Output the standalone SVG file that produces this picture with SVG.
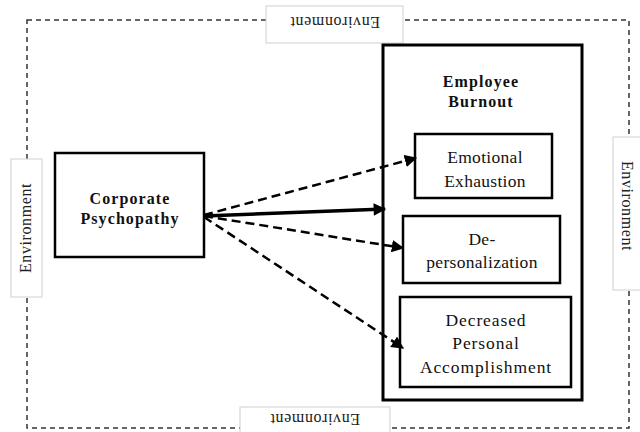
<svg xmlns="http://www.w3.org/2000/svg" width="640" height="432" viewBox="0 0 640 432">
  <style>
    .env-line { fill: none; stroke: #333; stroke-width: 1.5; stroke-dasharray: 5 4; }
    .env-box { fill: #fff; stroke: #d0d0d0; stroke-width: 1; }
    text { font-family: "Liberation Serif", "Times New Roman", "DejaVu Serif", serif; }
    .env-text { font-size: 16px; fill: #222; text-anchor: middle; letter-spacing: 0.6px; }
    .box { fill: #fff; stroke: #000; stroke-width: 2.5; }
    .big { fill: #fff; stroke: #000; stroke-width: 3; }
    .title { font-size: 16px; font-weight: bold; fill: #111; text-anchor: middle; letter-spacing: 1.1px; }
    .label { font-size: 17.5px; fill: #111; text-anchor: middle; letter-spacing: 0.3px; }
    .wide { letter-spacing: 0.9px; }
    .dash { fill: none; stroke: #000; stroke-width: 2.5; stroke-dasharray: 9 5; }
    .solid { fill: none; stroke: #000; stroke-width: 3.5; }
  </style>
  <defs>
    <marker id="head" viewBox="0 0 10 10" refX="9" refY="5" markerWidth="5" markerHeight="5" orient="auto" markerUnits="strokeWidth">
      <path d="M0,0 L10,5 L0,10 z" fill="#000"/>
    </marker>
    <marker id="headS" viewBox="0 0 10 10" refX="9" refY="5" markerWidth="4" markerHeight="3.6" orient="auto" markerUnits="strokeWidth">
      <path d="M0,0 L10,5 L0,10 z" fill="#000"/>
    </marker>
  </defs>

  <rect width="640" height="432" fill="#fff"/>

  <!-- environment boundary -->
  <g id="environment">
    <rect class="env-line" x="27" y="20" width="602" height="408"/>
    <g id="env-top">
      <rect class="env-box" x="266" y="6" width="137" height="37"/>
      <text class="env-text" transform="translate(335,22) rotate(180)" y="5">Environment</text>
    </g>
    <g id="env-left">
      <rect class="env-box" x="11" y="159" width="31" height="138"/>
      <text class="env-text" transform="translate(26,228) rotate(-90)" y="5">Environment</text>
    </g>
    <g id="env-right">
      <rect class="env-box" x="613" y="137" width="32" height="153"/>
      <text class="env-text" transform="translate(627,206) rotate(90)" y="5">Environment</text>
    </g>
    <g id="env-bottom">
      <rect class="env-box" x="240" y="407" width="150" height="30"/>
      <text class="env-text" transform="translate(315,419) rotate(180)" y="5">Environment</text>
    </g>
  </g>

  <g id="corporate-psychopathy">
    <rect class="box" x="55" y="153" width="149" height="104"/>
    <text class="title" x="130" y="204">Corporate</text>
    <text class="title" x="130" y="224">Psychopathy</text>
  </g>

  <g id="employee-burnout">
    <rect class="big" x="383" y="45" width="199" height="355"/>
    <text class="title" x="481" y="87">Employee</text>
    <text class="title" x="481" y="107">Burnout</text>
  </g>

  <g id="emotional-exhaustion">
    <rect class="box" x="415" y="134" width="137" height="64"/>
    <text class="label" x="485" y="163">Emotional</text>
    <text class="label" x="485" y="187">Exhaustion</text>
  </g>

  <g id="depersonalization">
    <rect class="box" x="403" y="216" width="157" height="67"/>
    <text class="label" x="482" y="245">De-</text>
    <text class="label" x="482" y="268">personalization</text>
  </g>

  <g id="decreased-accomplishment">
    <rect class="box" x="400" y="297" width="171" height="90"/>
    <text class="label wide" x="486" y="326">Decreased</text>
    <text class="label wide" x="486" y="349">Personal</text>
    <text class="label wide" x="486" y="373">Accomplishment</text>
  </g>

  <g id="connectors">
    <line class="dash" x1="204" y1="215" x2="416" y2="158" marker-end="url(#head)"/>
    <line class="solid" x1="204" y1="216" x2="385" y2="209" marker-end="url(#headS)"/>
    <line class="dash" x1="204" y1="216" x2="403" y2="248" marker-end="url(#head)"/>
    <line class="dash" x1="204" y1="217" x2="403" y2="348" marker-end="url(#head)"/>
  </g>
</svg>
